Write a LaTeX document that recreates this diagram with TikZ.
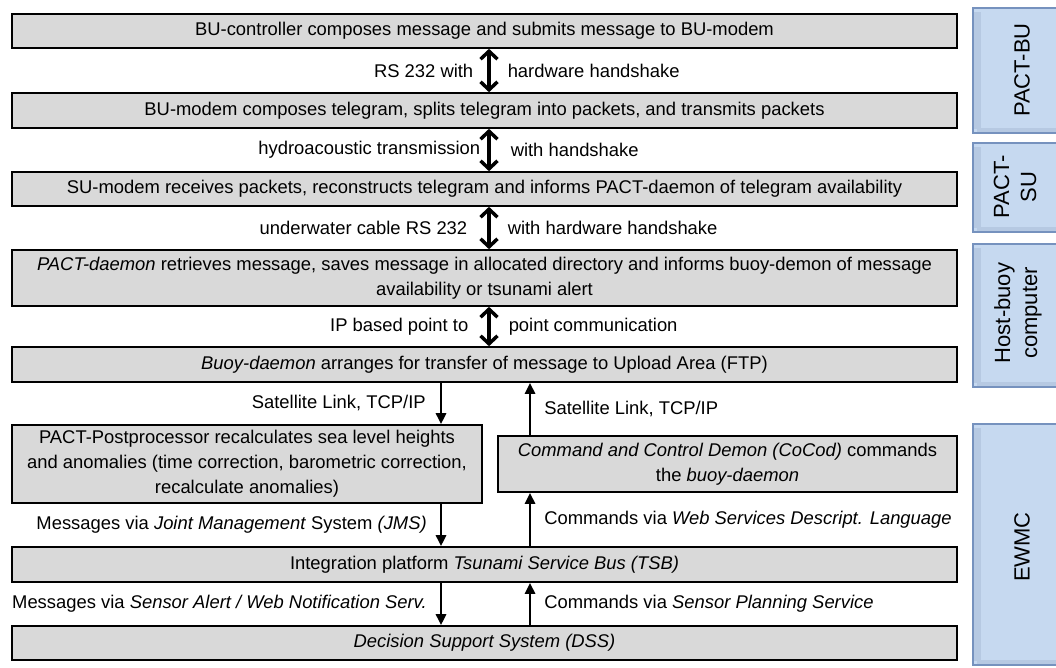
\documentclass[tikz,border=0pt]{standalone}
\usepackage{fontspec}
\setmainfont{Liberation Sans}
\usetikzlibrary{arrows.meta}

\definecolor{boxgray}{RGB}{217,217,217}
\definecolor{sideblue}{RGB}{198,217,240}
\definecolor{sideedge}{RGB}{118,146,190}
\definecolor{sidebevel}{RGB}{182,201,226}

\begin{document}
\begin{tikzpicture}
  [x=1pt, y=-1pt,
   box/.style={draw, line width=1.6pt, fill=boxgray, inner sep=0pt, align=center,
     font=\fontsize{18.4}{25}\selectfont},
   lbl/.style={inner sep=0pt, font=\fontsize{18.4}{22}\selectfont},
   sidelbl/.style={inner sep=0pt, rotate=90, align=center, font=\fontsize{22}{27}\selectfont},
   dblarrow/.style={{Straight Barb[length=8pt,width=17pt]}-{Straight Barb[length=8pt,width=17pt]},
     line width=3.5pt},
   onearrow/.style={-{Triangle[length=11pt,width=10pt]}, line width=2.6pt}]
  \useasboundingbox (0,0) rectangle (1056,667);

  % layers on the right
  \foreach \t/\b in {8/133, 143/232, 244/387, 424/665}{
    \fill[sideblue] (973,\t) rectangle (1056,\b);
    \draw[sidebevel, line width=7pt] (977.5,\t+4) -- (977.5,\b-4);
    \draw[sidebevel, line width=4pt] (977,\b-3) -- (1056,\b-3);
    \draw[sideedge, line width=1.5pt] (1056,\t) -- (973,\t) -- (973,\b) -- (1056,\b);
  }
  \node[sidelbl] (pactbu) at (1022,70) {PACT-BU};
  \node[sidelbl] (pactsu) at (1015,187) {PACT-\\SU};
  \node[sidelbl] (hostbuoy) at (1018,313) {Host-buoy\\computer};
  \node[sidelbl] (ewmc) at (1022,547) {EWMC};

  % steps
  \node[box, minimum width=945, minimum height=34] (bucontrol) at (484.5,31)
    {BU-controller composes message and submits message to BU-modem};
  \node[box, minimum width=945, minimum height=35] (bumodem) at (484.5,110.5)
    {BU-modem composes telegram, splits telegram into packets, and transmits packets};
  \node[box, minimum width=945, minimum height=34] (sumodem) at (484.5,189)
    {SU-modem receives packets, reconstructs telegram and informs PACT-daemon of telegram availability};
  \node[box, minimum width=945, minimum height=56] (pactdaemon) at (484.5,278)
    {\textit{PACT-daemon} retrieves message, saves message in allocated directory and informs buoy-demon of message\\
     availability or tsunami alert};
  \node[box, minimum width=945, minimum height=35] (buoydaemon) at (484.5,364.5)
    {\textit{Buoy-daemon} arranges for transfer of message to Upload Area (FTP)};
  \node[box, minimum width=470, minimum height=78] (postproc) at (247,464)
    {PACT-Postprocessor recalculates sea level heights\\
     and anomalies (time correction, barometric correction,\\
     recalculate anomalies)};
  \node[box, minimum width=459, minimum height=56] (cocod) at (727.5,464)
    {\textit{Command and Control Demon (CoCod)} commands\\the \textit{buoy-daemon}};
  \node[box, minimum width=945, minimum height=35] (tsb) at (484.5,564.5)
    {Integration platform \textit{Tsunami Service Bus (TSB)}};
  \node[box, minimum width=945, minimum height=34] (dss) at (484.5,643)
    {\textit{Decision Support System (DSS)}};

  \coordinate (dbl) at (489,0);
  \coordinate (down) at (441,0);
  \coordinate (up) at (530,0);

  % handshakes
  \draw[dblarrow] (bucontrol.south -| dbl) -- (bumodem.north -| dbl)
    node[lbl, midway, left=14pt] {RS 232 with}
    node[lbl, midway, right=17pt] {hardware handshake};
  \draw[dblarrow] (bumodem.south -| dbl) -- (sumodem.north -| dbl)
    node[lbl, midway, left=7pt] {hydroacoustic transmission}
    node[lbl, midway, right=20pt] {with handshake};
  \draw[dblarrow] (sumodem.south -| dbl) -- (pactdaemon.north -| dbl)
    node[lbl, midway, left=20pt] {underwater cable RS 232}
    node[lbl, midway, right=17pt] {with hardware handshake};
  \draw[dblarrow] (pactdaemon.south -| dbl) -- (buoydaemon.north -| dbl)
    node[lbl, midway, left=19pt] {IP based point to}
    node[lbl, midway, right=18pt] {point communication};

  % messages down
  \draw[onearrow] (buoydaemon.south -| down) -- (postproc.north -| down)
    node[lbl, midway, left=14pt] {Satellite Link, TCP/IP};
  \draw[onearrow] (postproc.south -| down) -- (tsb.north -| down)
    node[lbl, midway, left=13pt] {Messages via \textit{Joint Management} System \textit{(JMS)}};
  \draw[onearrow] (tsb.south -| down) -- (dss.north -| down)
    node[lbl, midway, left=13pt] {Messages via \textit{Sensor Alert / Web Notification Serv.}};

  % commands up
  \draw[onearrow] (cocod.north -| up) -- (buoydaemon.south -| up)
    node[lbl, midway, right=13pt] {Satellite Link, TCP/IP};
  \draw[onearrow] (tsb.north -| up) -- (cocod.south -| up)
    node[lbl, midway, right=13pt] {Commands via \textit{Web Services Descript. Language}};
  \draw[onearrow] (dss.north -| up) -- (tsb.south -| up)
    node[lbl, midway, right=13pt] {Commands via \textit{Sensor Planning Service}};
\end{tikzpicture}
\end{document}
